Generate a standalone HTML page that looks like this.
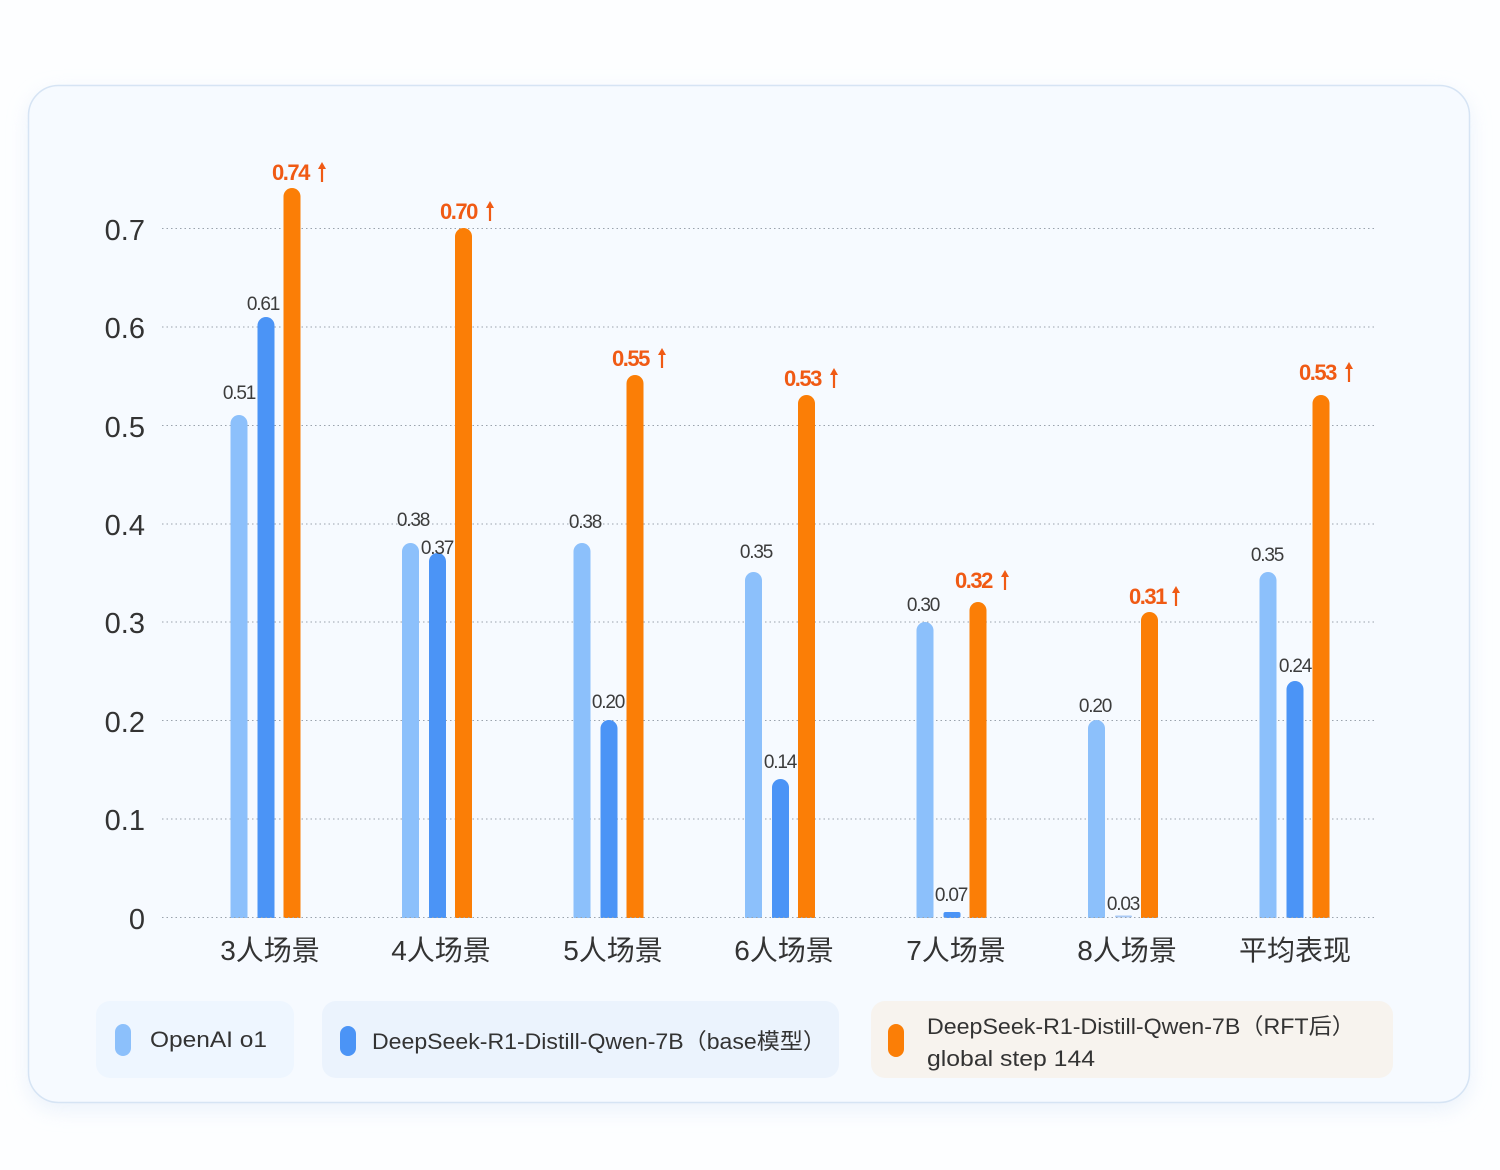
<!DOCTYPE html>
<html><head><meta charset="utf-8"><style>
html,body{margin:0;padding:0;background:#fff;}
svg{display:block;}
</style></head><body>
<svg width="1500" height="1170" viewBox="0 0 1500 1170" xmlns="http://www.w3.org/2000/svg" font-family="'Liberation Sans','Noto Sans CJK SC',sans-serif">
<defs>
<filter id="sh" x="-10%" y="-10%" width="120%" height="120%"><feGaussianBlur stdDeviation="10"/></filter>
</defs>
<rect x="0" y="0" width="1500" height="1170" fill="#fdfeff"/>
<rect x="28" y="92" width="1442" height="1018" rx="30" fill="#e6effa" filter="url(#sh)" opacity="0.8"/>
<rect x="28.5" y="85.5" width="1441" height="1017" rx="30" fill="#f6faff" stroke="#d6e4f4" stroke-width="1.5"/>
<g stroke="#9aa3ad" stroke-width="1" stroke-dasharray="1.5,3">
<line x1="162" y1="819" x2="1377" y2="819"/>
<line x1="162" y1="720.5" x2="1377" y2="720.5"/>
<line x1="162" y1="622" x2="1377" y2="622"/>
<line x1="162" y1="524" x2="1377" y2="524"/>
<line x1="162" y1="425.5" x2="1377" y2="425.5"/>
<line x1="162" y1="327" x2="1377" y2="327"/>
<line x1="162" y1="228.5" x2="1377" y2="228.5"/>
</g>
<g font-size="29" fill="#333" text-anchor="end">
<text x="145" y="929">0</text>
<text x="145" y="830">0.1</text>
<text x="145" y="732">0.2</text>
<text x="145" y="633">0.3</text>
<text x="145" y="535">0.4</text>
<text x="145" y="437">0.5</text>
<text x="145" y="338">0.6</text>
<text x="145" y="240">0.7</text>
</g>
<g fill="#8cc0fb">
<rect x="230.5" y="415" width="17" height="510" rx="8.5"/>
<rect x="402" y="543" width="17" height="382" rx="8.5"/>
<rect x="573.5" y="543" width="17" height="382" rx="8.5"/>
<rect x="745" y="572" width="17" height="353" rx="8.5"/>
<rect x="916.5" y="622" width="17" height="303" rx="8.5"/>
<rect x="1088" y="720" width="17" height="205" rx="8.5"/>
<rect x="1259.5" y="572" width="17" height="353" rx="8.5"/>
</g>
<g fill="#4b94f6">
<rect x="257.5" y="317" width="17" height="608" rx="8.5"/>
<rect x="429" y="553" width="17" height="372" rx="8.5"/>
<rect x="600.5" y="720" width="17" height="205" rx="8.5"/>
<rect x="772" y="779" width="17" height="146" rx="8.5"/>
<rect x="943.5" y="912" width="17" height="6" rx="2"/>
<rect x="1115" y="915.5" width="17" height="2" rx="1" fill="#a9c9f5"/>
<rect x="1286.5" y="681" width="17" height="244" rx="8.5"/>
</g>
<g fill="#fb7e06">
<rect x="283.5" y="188" width="17" height="740" rx="8.5"/>
<rect x="455" y="228" width="17" height="700" rx="8.5"/>
<rect x="626.5" y="375" width="17" height="553" rx="8.5"/>
<rect x="798" y="395" width="17" height="533" rx="8.5"/>
<rect x="969.5" y="602" width="17" height="326" rx="8.5"/>
<rect x="1141" y="612" width="17" height="316" rx="8.5"/>
<rect x="1312.5" y="395" width="17" height="533" rx="8.5"/>
</g>
<rect x="162" y="918" width="1216" height="12" fill="#f6faff"/>
<line x1="162" y1="917.5" x2="1377" y2="917.5" stroke="#9aa3ad" stroke-dasharray="1.5,3"/>
<g font-size="19" fill="#3c3c3c" text-anchor="middle" letter-spacing="-1.2">
<text x="239" y="399">0.51</text>
<text x="413" y="526">0.38</text>
<text x="585" y="528">0.38</text>
<text x="756" y="558">0.35</text>
<text x="923" y="611">0.30</text>
<text x="1095" y="712">0.20</text>
<text x="1267" y="561">0.35</text>
<text x="263" y="310">0.61</text>
<text x="437" y="554">0.37</text>
<text x="608" y="708">0.20</text>
<text x="780" y="768">0.14</text>
<text x="951" y="901">0.07</text>
<text x="1123" y="910">0.03</text>
<text x="1295" y="672">0.24</text>
</g>
<g font-size="22" fill="#f05a14" font-weight="bold" letter-spacing="-1.5">
<text x="272" y="180">0.74</text>
<text x="440" y="219">0.70</text>
<text x="612" y="366">0.55</text>
<text x="784" y="386">0.53</text>
<text x="955" y="588">0.32</text>
<text x="1129" y="604">0.31</text>
<text x="1299" y="380">0.53</text>
</g>
<g stroke="#f05a14" stroke-width="2.2" fill="#f05a14">
<g transform="translate(322,172)"><line x1="0" y1="-5" x2="0" y2="10"/><path d="M-4,-3 L0,-10 L4,-3Z" stroke="none"/></g>
<g transform="translate(490,211)"><line x1="0" y1="-5" x2="0" y2="10"/><path d="M-4,-3 L0,-10 L4,-3Z" stroke="none"/></g>
<g transform="translate(662,358)"><line x1="0" y1="-5" x2="0" y2="10"/><path d="M-4,-3 L0,-10 L4,-3Z" stroke="none"/></g>
<g transform="translate(834,378)"><line x1="0" y1="-5" x2="0" y2="10"/><path d="M-4,-3 L0,-10 L4,-3Z" stroke="none"/></g>
<g transform="translate(1005,580)"><line x1="0" y1="-5" x2="0" y2="10"/><path d="M-4,-3 L0,-10 L4,-3Z" stroke="none"/></g>
<g transform="translate(1176,596)"><line x1="0" y1="-5" x2="0" y2="10"/><path d="M-4,-3 L0,-10 L4,-3Z" stroke="none"/></g>
<g transform="translate(1349,372)"><line x1="0" y1="-5" x2="0" y2="10"/><path d="M-4,-3 L0,-10 L4,-3Z" stroke="none"/></g>
</g>
<g font-size="28" fill="#333" text-anchor="middle">
<text x="270" y="960">3人场景</text>
<text x="441" y="960">4人场景</text>
<text x="613" y="960">5人场景</text>
<text x="784" y="960">6人场景</text>
<text x="956" y="960">7人场景</text>
<text x="1127" y="960">8人场景</text>
<text x="1295" y="960">平均表现</text>
</g>
<rect x="96" y="1001" width="198" height="77" rx="14" fill="#eef6ff"/>
<rect x="322" y="1001" width="517" height="77" rx="14" fill="#ebf3fd"/>
<rect x="871" y="1001" width="522" height="77" rx="14" fill="#f7f3ee"/>
<rect x="115" y="1024" width="16" height="32" rx="8" fill="#8cc0fb"/>
<rect x="340" y="1026" width="16" height="30" rx="8" fill="#4b94f6"/>
<rect x="888" y="1024" width="16" height="33" rx="8" fill="#fb7e06"/>
<g font-size="22" fill="#333">
<text x="150" y="1047" textLength="117" lengthAdjust="spacingAndGlyphs">OpenAI o1</text>
<text x="372" y="1049" textLength="454" lengthAdjust="spacingAndGlyphs">DeepSeek-R1-Distill-Qwen-7B（base模型）</text>
<text x="927" y="1034" textLength="428" lengthAdjust="spacingAndGlyphs">DeepSeek-R1-Distill-Qwen-7B（RFT后）</text>
<text x="927" y="1066" textLength="168" lengthAdjust="spacingAndGlyphs">global step 144</text>
</g>
</svg>
</body></html>
